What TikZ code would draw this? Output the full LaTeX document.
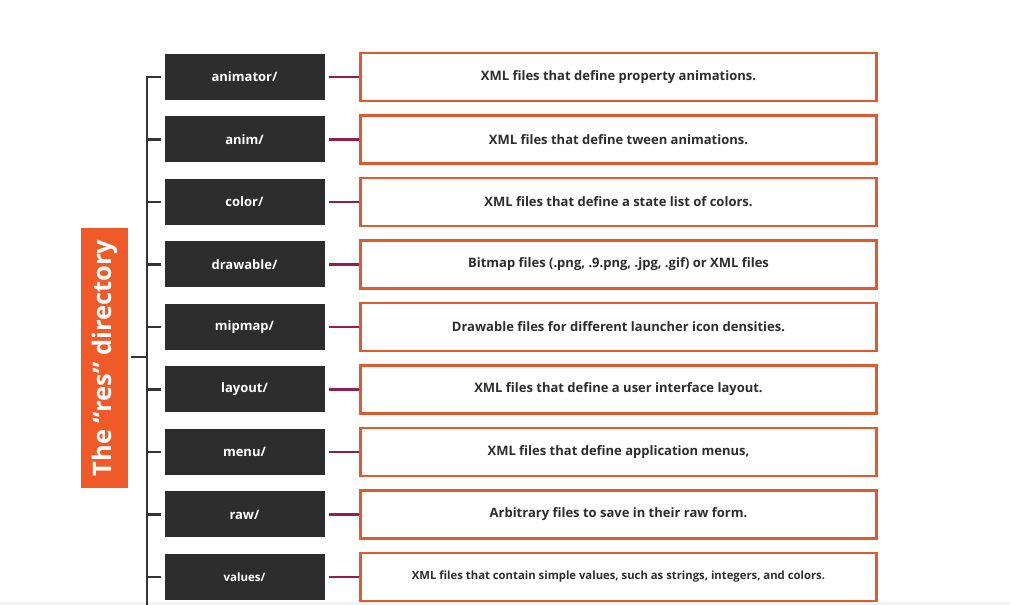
\documentclass[tikz,border=0pt]{standalone}
\usepackage{fontspec}
\setmainfont{Open Sans}
\definecolor{darkbox}{HTML}{2D2D2D}
\definecolor{orangeline}{HTML}{E05A2E}
\definecolor{orangefill}{HTML}{F05A28}
\definecolor{plum}{HTML}{8E1F4E}
\definecolor{stem}{HTML}{333333}
\begin{document}
\begin{tikzpicture}[x=1pt,y=1pt,
  dirbox/.style={fill=darkbox,draw=none,minimum width=160pt,minimum height=46pt,inner sep=0pt,text=white,font=\bfseries\fontsize{13}{15}\selectfont},
  descbox/.style={draw=orangeline,line width=2.6pt,fill=white,minimum width=516pt,minimum height=48pt,inner sep=0pt,text=darkbox,font=\bfseries\fontsize{13}{15}\selectfont},
  link/.style={draw=plum,line width=2.6pt},
  tick/.style={draw=stem,line width=2.8pt}]
\useasboundingbox (0,0) rectangle (1010,605);
\fill[white] (0,0) rectangle (1010,605);
\fill[black!5] (0,0) rectangle (1010,3);
\node[fill=orangefill,minimum width=260pt,minimum height=47pt,inner sep=0pt,rotate=90,text=white,font=\bfseries\fontsize{25.5}{28}\selectfont] (res) at (104.5,247) {The “res” directory};
\coordinate (top) at (147,528);
\coordinate (bot) at (147,-2);
\draw[tick] (top) -- (bot);
\coordinate (mid) at (147,248);
\draw[tick] (131,248) -- (mid);
\foreach \i/\name/\desc in {
  0/{animator/}/XML files that define property animations.,
  1/{anim/}/XML files that define tween animations.,
  2/{color/}/XML files that define a state list of colors.,
  3/{drawable/}/{Bitmap files (.png, .9.png, .jpg, .gif) or XML files},
  4/{mipmap/}/Drawable files for different launcher icon densities.,
  5/{layout/}/XML files that define a user interface layout.,
  6/{menu/}/{XML files that define application menus,},
  7/{raw/}/Arbitrary files to save in their raw form.}{
  \pgfmathsetmacro{\yy}{528-62.5*\i}
  \node[dirbox] (d\i) at (244.5,\yy) {\name};
  \node[descbox] (e\i) at (618.5,\yy) {\desc};
  \coordinate (t\i) at (147,\yy);
  \draw[tick] (t\i) -- ([xshift=-3pt]d\i.west);
  \draw[link] ([xshift=4pt]d\i.east) -- (e\i.west);
}
\node[dirbox,font=\bfseries\fontsize{11.5}{13}\selectfont] (d8) at (244.5,28) {values/};
\node[descbox,font=\bfseries\fontsize{11.3}{13}\selectfont] (e8) at (618.5,28) {XML files that contain simple values, such as strings, integers, and colors.};
\coordinate (t8) at (147,28);
\draw[tick] (t8) -- ([xshift=-3pt]d8.west);
\draw[link] ([xshift=4pt]d8.east) -- (e8.west);
\draw[tick] ([xshift=-1.4pt]top) -- (t0);
\end{tikzpicture}
\end{document}
